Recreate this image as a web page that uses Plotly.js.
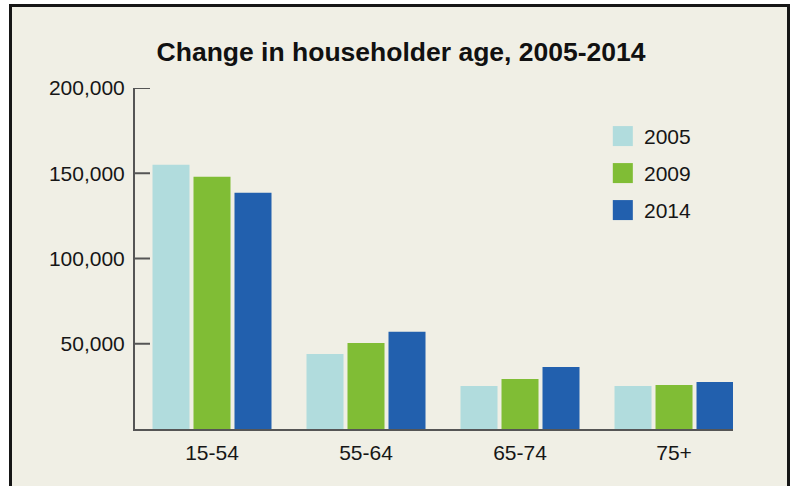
<!DOCTYPE html>
<html>
<head>
<meta charset="utf-8">
<script src="https://cdn.plot.ly/plotly-3.0.1.min.js"></script>
<style>
  html, body { margin: 0; padding: 0; background: #ffffff; }
  #wrap { position: absolute; left: 9px; top: 4px; width: 775px; height: 479px;
          border-left: 3px solid #161616; border-top: 3px solid #161616; border-right: 3px solid #161616;
          background: #f0efe5; }
  #chart { width: 775px; height: 479px; }
</style>
</head>
<body>
<div id="wrap"><div id="chart"></div></div>
<script>
const categories = ["15-54", "55-64", "65-74", "75+"];
const seriesNames = ["2005", "2009", "2014"];
const values2005 = [155000, 44000, 25200, 25200];
const values2009 = [148000, 50500, 29300, 25800];
const values2014 = [138500, 57000, 36400, 27600];
const colors = ["#b1dcdd", "#80bd35", "#2260ae"];
const yTicks = [50000, 100000, 150000, 200000];
const yTickLabels = ["50,000", "100,000", "150,000", "200,000"];

const allValues = [values2005, values2009, values2014];
const traces = seriesNames.map((name, i) => ({
  type: "bar",
  name: name,
  x: categories,
  y: allValues[i],
  marker: { color: colors[i], line: { width: 0 } },
  hoverinfo: "x+y+name"
}));

const FONT = "Liberation Sans, Arial, Helvetica, sans-serif";

const shapes = [];
const annotations = [];

// y-axis tick marks pointing into the plot, one per tick value
yTicks.forEach(v => {
  shapes.push({
    type: "line", xref: "paper", yref: "y",
    x0: 0, x1: 15 / 598, y0: v, y1: v,
    line: { color: "#555555", width: 2 }
  });
});

// legend swatches and labels (built from series arrays)
const legTop = 0.859, legStep = 0.1085, swH = 20 / 341;
seriesNames.forEach((name, i) => {
  const yc = legTop - i * legStep;
  shapes.push({
    type: "rect", xref: "paper", yref: "paper",
    x0: 0.799, x1: 0.8325, y0: yc - swH / 2, y1: yc + swH / 2,
    fillcolor: colors[i], line: { width: 0 }
  });
  annotations.push({
    xref: "paper", yref: "paper", x: 0.848, y: yc,
    xanchor: "left", yanchor: "middle", showarrow: false,
    text: name, font: { family: FONT, size: 21, color: "#161616" }
  });
});

const layout = {
  width: 775, height: 479,
  paper_bgcolor: "#f0efe5", plot_bgcolor: "#f0efe5",
  margin: { l: 123, r: 54, t: 81, b: 57 },
  showlegend: false,
  barmode: "group",
  bargap: 0.2013,
  bargroupgap: 0.0976,
  title: {
    text: "<b>Change in householder age, 2005-2014</b>",
    font: { family: FONT, size: 26.5, color: "#111111" },
    x: 0.502, xref: "container", xanchor: "center",
    y: 0.906, yref: "container", yanchor: "middle"
  },
  xaxis: {
    range: [-0.5, 3.383],
    showline: true, linecolor: "#555555", linewidth: 2,
    ticks: "", showgrid: false, zeroline: false,
    tickfont: { family: FONT, size: 21, color: "#161616" },
    ticklabelstandoff: 4,
    fixedrange: true
  },
  yaxis: {
    range: [0, 200000],
    showline: true, linecolor: "#555555", linewidth: 2,
    ticks: "",
    tickvals: yTicks, ticktext: yTickLabels,
    showgrid: false, zeroline: false,
    tickfont: { family: FONT, size: 21, color: "#161616" },
    ticklabelstandoff: 4,
    fixedrange: true
  },
  shapes: shapes,
  annotations: annotations
};

Plotly.newPlot("chart", traces, layout, { displayModeBar: false });
</script>
</body>
</html>
